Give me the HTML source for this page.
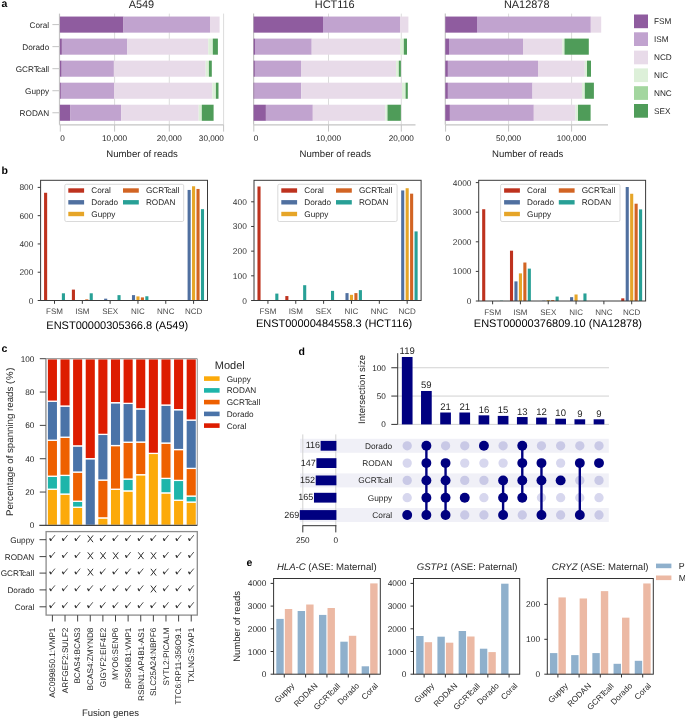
<!DOCTYPE html>
<html><head><meta charset="utf-8"><style>
html,body{margin:0;padding:0;background:#fff;}
svg{display:block;will-change:transform;}
text{font-family:"Liberation Sans", sans-serif;text-rendering:geometricPrecision;font-kerning:normal;}
</style></head><body>
<svg width="685" height="718" viewBox="0 0 685 718">
<rect width="685" height="718" fill="#fff"/>
<text x="1.60" y="6.60" font-size="10.5" text-anchor="start" fill="#000" font-weight="bold">a</text>
<line x1="114.60" y1="13.60" x2="114.60" y2="124.80" stroke="#dcdcdc" stroke-width="1"/>
<line x1="169.30" y1="13.60" x2="169.30" y2="124.80" stroke="#dcdcdc" stroke-width="1"/>
<line x1="223.60" y1="13.60" x2="223.60" y2="124.80" stroke="#dcdcdc" stroke-width="1"/>
<line x1="59.50" y1="13.60" x2="59.50" y2="124.80" stroke="#c4c4c4" stroke-width="1.2"/>
<line x1="59.50" y1="124.80" x2="223.60" y2="124.80" stroke="#c4c4c4" stroke-width="1.2"/>
<rect x="59.90" y="16.55" width="63.60" height="16.10" fill="#8f5c9f"/>
<rect x="123.50" y="16.55" width="86.50" height="16.10" fill="#c1a3cf"/>
<rect x="210.00" y="16.55" width="9.60" height="16.10" fill="#e8dbe9"/>
<rect x="59.90" y="38.59" width="2.00" height="16.10" fill="#8f5c9f"/>
<rect x="61.90" y="38.59" width="65.40" height="16.10" fill="#c1a3cf"/>
<rect x="127.30" y="38.59" width="81.00" height="16.10" fill="#e8dbe9"/>
<rect x="208.30" y="38.59" width="4.50" height="16.10" fill="#ddf0d9"/>
<rect x="212.80" y="38.59" width="5.10" height="16.10" fill="#4f9c59"/>
<rect x="59.90" y="60.63" width="1.80" height="16.10" fill="#8f5c9f"/>
<rect x="61.70" y="60.63" width="52.20" height="16.10" fill="#c1a3cf"/>
<rect x="113.90" y="60.63" width="91.80" height="16.10" fill="#e8dbe9"/>
<rect x="205.70" y="60.63" width="3.20" height="16.10" fill="#ddf0d9"/>
<rect x="208.90" y="60.63" width="2.90" height="16.10" fill="#4f9c59"/>
<rect x="59.90" y="82.67" width="1.00" height="16.10" fill="#8f5c9f"/>
<rect x="60.90" y="82.67" width="53.10" height="16.10" fill="#c1a3cf"/>
<rect x="114.00" y="82.67" width="98.40" height="16.10" fill="#e8dbe9"/>
<rect x="212.40" y="82.67" width="3.50" height="16.10" fill="#ddf0d9"/>
<rect x="215.90" y="82.67" width="2.60" height="16.10" fill="#4f9c59"/>
<rect x="59.90" y="104.71" width="10.20" height="16.10" fill="#8f5c9f"/>
<rect x="70.10" y="104.71" width="51.00" height="16.10" fill="#c1a3cf"/>
<rect x="121.10" y="104.71" width="77.60" height="16.10" fill="#e8dbe9"/>
<rect x="198.70" y="104.71" width="3.10" height="16.10" fill="#ddf0d9"/>
<rect x="201.80" y="104.71" width="11.80" height="16.10" fill="#4f9c59"/>
<line x1="60.30" y1="124.80" x2="60.30" y2="131.60" stroke="#c4c4c4" stroke-width="1"/>
<text x="62.60" y="141.30" font-size="8.2" text-anchor="middle" fill="#262626">0</text>
<line x1="114.60" y1="124.80" x2="114.60" y2="131.60" stroke="#c4c4c4" stroke-width="1"/>
<text x="114.60" y="141.30" font-size="8.2" text-anchor="middle" fill="#262626">10,000</text>
<line x1="169.30" y1="124.80" x2="169.30" y2="131.60" stroke="#c4c4c4" stroke-width="1"/>
<text x="169.30" y="141.30" font-size="8.2" text-anchor="middle" fill="#262626">20,000</text>
<line x1="223.60" y1="124.80" x2="223.60" y2="131.60" stroke="#c4c4c4" stroke-width="1"/>
<text x="223.90" y="141.30" font-size="8.2" text-anchor="end" fill="#262626">30,000</text>
<text x="141.40" y="8.40" font-size="10.95" text-anchor="middle" fill="#262626">A549</text>
<text x="142.10" y="156.60" font-size="9.6" text-anchor="middle" fill="#262626">Number of reads</text>
<line x1="52.40" y1="24.60" x2="59.50" y2="24.60" stroke="#c4c4c4" stroke-width="1"/>
<text x="49.20" y="27.60" font-size="8.2" text-anchor="end" fill="#262626">Coral</text>
<line x1="52.40" y1="46.64" x2="59.50" y2="46.64" stroke="#c4c4c4" stroke-width="1"/>
<text x="49.20" y="49.64" font-size="8.2" text-anchor="end" fill="#262626">Dorado</text>
<line x1="52.40" y1="68.68" x2="59.50" y2="68.68" stroke="#c4c4c4" stroke-width="1"/>
<text x="49.20" y="71.68" font-size="8.2" text-anchor="end" fill="#262626">GCRT<tspan dx="-0.11em">call</tspan></text>
<line x1="52.40" y1="90.72" x2="59.50" y2="90.72" stroke="#c4c4c4" stroke-width="1"/>
<text x="49.20" y="93.72" font-size="8.2" text-anchor="end" fill="#262626">Guppy</text>
<line x1="52.40" y1="112.76" x2="59.50" y2="112.76" stroke="#c4c4c4" stroke-width="1"/>
<text x="49.20" y="115.76" font-size="8.2" text-anchor="end" fill="#262626">RODAN</text>
<line x1="328.50" y1="13.60" x2="328.50" y2="124.80" stroke="#dcdcdc" stroke-width="1"/>
<line x1="401.30" y1="13.60" x2="401.30" y2="124.80" stroke="#dcdcdc" stroke-width="1"/>
<line x1="253.60" y1="13.60" x2="253.60" y2="124.80" stroke="#c4c4c4" stroke-width="1.2"/>
<line x1="253.60" y1="124.80" x2="415.50" y2="124.80" stroke="#c4c4c4" stroke-width="1.2"/>
<rect x="253.60" y="16.55" width="69.40" height="16.10" fill="#8f5c9f"/>
<rect x="323.00" y="16.55" width="77.00" height="16.10" fill="#c1a3cf"/>
<rect x="400.00" y="16.55" width="8.40" height="16.10" fill="#e8dbe9"/>
<rect x="253.60" y="38.59" width="1.40" height="16.10" fill="#8f5c9f"/>
<rect x="255.00" y="38.59" width="56.70" height="16.10" fill="#c1a3cf"/>
<rect x="311.70" y="38.59" width="88.40" height="16.10" fill="#e8dbe9"/>
<rect x="400.10" y="38.59" width="3.70" height="16.10" fill="#ddf0d9"/>
<rect x="403.80" y="38.59" width="3.20" height="16.10" fill="#4f9c59"/>
<rect x="253.60" y="60.63" width="1.30" height="16.10" fill="#8f5c9f"/>
<rect x="254.90" y="60.63" width="46.10" height="16.10" fill="#c1a3cf"/>
<rect x="301.00" y="60.63" width="95.10" height="16.10" fill="#e8dbe9"/>
<rect x="396.10" y="60.63" width="2.70" height="16.10" fill="#ddf0d9"/>
<rect x="398.80" y="60.63" width="2.10" height="16.10" fill="#4f9c59"/>
<rect x="253.60" y="82.67" width="1.00" height="16.10" fill="#8f5c9f"/>
<rect x="254.60" y="82.67" width="46.60" height="16.10" fill="#c1a3cf"/>
<rect x="301.20" y="82.67" width="100.80" height="16.10" fill="#e8dbe9"/>
<rect x="402.00" y="82.67" width="3.60" height="16.10" fill="#ddf0d9"/>
<rect x="405.60" y="82.67" width="2.20" height="16.10" fill="#4f9c59"/>
<rect x="253.60" y="104.71" width="12.30" height="16.10" fill="#8f5c9f"/>
<rect x="265.90" y="104.71" width="46.90" height="16.10" fill="#c1a3cf"/>
<rect x="312.80" y="104.71" width="72.60" height="16.10" fill="#e8dbe9"/>
<rect x="385.40" y="104.71" width="2.10" height="16.10" fill="#ddf0d9"/>
<rect x="387.50" y="104.71" width="13.40" height="16.10" fill="#4f9c59"/>
<line x1="253.80" y1="124.80" x2="253.80" y2="131.60" stroke="#c4c4c4" stroke-width="1"/>
<text x="256.10" y="141.30" font-size="8.2" text-anchor="middle" fill="#262626">0</text>
<line x1="328.50" y1="124.80" x2="328.50" y2="131.60" stroke="#c4c4c4" stroke-width="1"/>
<text x="328.50" y="141.30" font-size="8.2" text-anchor="middle" fill="#262626">10,000</text>
<line x1="401.30" y1="124.80" x2="401.30" y2="131.60" stroke="#c4c4c4" stroke-width="1"/>
<text x="401.30" y="141.30" font-size="8.2" text-anchor="middle" fill="#262626">20,000</text>
<text x="334.75" y="8.40" font-size="10.95" text-anchor="middle" fill="#262626">HCT116</text>
<text x="335.30" y="156.60" font-size="9.6" text-anchor="middle" fill="#262626">Number of reads</text>
<line x1="508.60" y1="13.60" x2="508.60" y2="124.80" stroke="#dcdcdc" stroke-width="1"/>
<line x1="571.60" y1="13.60" x2="571.60" y2="124.80" stroke="#dcdcdc" stroke-width="1"/>
<line x1="445.30" y1="13.60" x2="445.30" y2="124.80" stroke="#c4c4c4" stroke-width="1.2"/>
<line x1="445.30" y1="124.80" x2="608.00" y2="124.80" stroke="#c4c4c4" stroke-width="1.2"/>
<rect x="445.30" y="16.55" width="31.70" height="16.10" fill="#8f5c9f"/>
<rect x="477.00" y="16.55" width="113.80" height="16.10" fill="#c1a3cf"/>
<rect x="590.80" y="16.55" width="10.40" height="16.10" fill="#e8dbe9"/>
<rect x="445.30" y="38.59" width="3.70" height="16.10" fill="#8f5c9f"/>
<rect x="449.00" y="38.59" width="74.00" height="16.10" fill="#c1a3cf"/>
<rect x="523.00" y="38.59" width="39.30" height="16.10" fill="#e8dbe9"/>
<rect x="562.30" y="38.59" width="2.20" height="16.10" fill="#ddf0d9"/>
<rect x="564.50" y="38.59" width="24.30" height="16.10" fill="#4f9c59"/>
<rect x="445.30" y="60.63" width="2.60" height="16.10" fill="#8f5c9f"/>
<rect x="447.90" y="60.63" width="90.10" height="16.10" fill="#c1a3cf"/>
<rect x="538.00" y="60.63" width="46.80" height="16.10" fill="#e8dbe9"/>
<rect x="584.80" y="60.63" width="2.20" height="16.10" fill="#ddf0d9"/>
<rect x="587.00" y="60.63" width="4.00" height="16.10" fill="#4f9c59"/>
<rect x="445.30" y="82.67" width="2.60" height="16.10" fill="#8f5c9f"/>
<rect x="447.90" y="82.67" width="84.60" height="16.10" fill="#c1a3cf"/>
<rect x="532.50" y="82.67" width="49.50" height="16.10" fill="#e8dbe9"/>
<rect x="582.00" y="82.67" width="2.80" height="16.10" fill="#ddf0d9"/>
<rect x="584.80" y="82.67" width="9.10" height="16.10" fill="#4f9c59"/>
<rect x="445.30" y="104.71" width="4.60" height="16.10" fill="#8f5c9f"/>
<rect x="449.90" y="104.71" width="83.90" height="16.10" fill="#c1a3cf"/>
<rect x="533.80" y="104.71" width="41.80" height="16.10" fill="#e8dbe9"/>
<rect x="575.60" y="104.71" width="2.40" height="16.10" fill="#ddf0d9"/>
<rect x="578.00" y="104.71" width="12.60" height="16.10" fill="#4f9c59"/>
<line x1="445.60" y1="124.80" x2="445.60" y2="131.60" stroke="#c4c4c4" stroke-width="1"/>
<text x="447.90" y="141.30" font-size="8.2" text-anchor="middle" fill="#262626">0</text>
<line x1="508.60" y1="124.80" x2="508.60" y2="131.60" stroke="#c4c4c4" stroke-width="1"/>
<text x="508.60" y="141.30" font-size="8.2" text-anchor="middle" fill="#262626">50,000</text>
<line x1="571.60" y1="124.80" x2="571.60" y2="131.60" stroke="#c4c4c4" stroke-width="1"/>
<text x="571.60" y="141.30" font-size="8.2" text-anchor="middle" fill="#262626">100,000</text>
<text x="526.70" y="8.40" font-size="10.95" text-anchor="middle" fill="#262626">NA12878</text>
<text x="527.70" y="156.60" font-size="9.6" text-anchor="middle" fill="#262626">Number of reads</text>
<rect x="634.00" y="14.50" width="14.00" height="13.70" fill="#8f5c9f"/>
<text x="654.00" y="24.35" font-size="8.2" text-anchor="start" fill="#262626">FSM</text>
<rect x="634.00" y="32.30" width="14.00" height="13.70" fill="#c1a3cf"/>
<text x="654.00" y="42.15" font-size="8.2" text-anchor="start" fill="#262626">ISM</text>
<rect x="634.00" y="50.60" width="14.00" height="13.70" fill="#e8dbe9"/>
<text x="654.00" y="60.45" font-size="8.2" text-anchor="start" fill="#262626">NCD</text>
<rect x="634.00" y="68.40" width="14.00" height="13.70" fill="#ddf0d9"/>
<text x="654.00" y="78.25" font-size="8.2" text-anchor="start" fill="#262626">NIC</text>
<rect x="634.00" y="86.20" width="14.00" height="13.70" fill="#a3d69f"/>
<text x="654.00" y="96.05" font-size="8.2" text-anchor="start" fill="#262626">NNC</text>
<rect x="634.00" y="104.00" width="14.00" height="13.70" fill="#4f9c59"/>
<text x="654.00" y="113.85" font-size="8.2" text-anchor="start" fill="#262626">SEX</text>
<text x="1.40" y="173.50" font-size="10.5" text-anchor="start" fill="#000" font-weight="bold">b</text>
<rect x="44.06" y="192.77" width="3.10" height="107.73" fill="#be321e"/>
<rect x="61.86" y="293.29" width="3.10" height="7.21" fill="#28a096"/>
<line x1="54.51" y1="300.50" x2="54.51" y2="303.80" stroke="#3a3a3a" stroke-width="1"/>
<text x="54.51" y="313.80" font-size="8.0" text-anchor="middle" fill="#4a4a4a">FSM</text>
<rect x="71.87" y="289.61" width="3.10" height="10.89" fill="#be321e"/>
<rect x="85.23" y="299.37" width="3.10" height="1.13" fill="#d26423"/>
<rect x="89.68" y="293.29" width="3.10" height="7.21" fill="#28a096"/>
<line x1="82.33" y1="300.50" x2="82.33" y2="303.80" stroke="#3a3a3a" stroke-width="1"/>
<text x="82.33" y="313.80" font-size="8.0" text-anchor="middle" fill="#4a4a4a">ISM</text>
<rect x="104.14" y="298.66" width="3.10" height="1.84" fill="#5070a0"/>
<rect x="117.49" y="295.13" width="3.10" height="5.37" fill="#28a096"/>
<line x1="110.14" y1="300.50" x2="110.14" y2="303.80" stroke="#3a3a3a" stroke-width="1"/>
<text x="110.14" y="313.80" font-size="8.0" text-anchor="middle" fill="#4a4a4a">SEX</text>
<rect x="131.96" y="295.13" width="3.10" height="5.37" fill="#5070a0"/>
<rect x="136.41" y="296.40" width="3.10" height="4.10" fill="#e6a528"/>
<rect x="140.86" y="297.39" width="3.10" height="3.11" fill="#d26423"/>
<rect x="145.31" y="296.26" width="3.10" height="4.24" fill="#28a096"/>
<line x1="137.96" y1="300.50" x2="137.96" y2="303.80" stroke="#3a3a3a" stroke-width="1"/>
<text x="137.96" y="313.80" font-size="8.0" text-anchor="middle" fill="#4a4a4a">NIC</text>
<line x1="165.78" y1="300.50" x2="165.78" y2="303.80" stroke="#3a3a3a" stroke-width="1"/>
<text x="165.78" y="313.80" font-size="8.0" text-anchor="middle" fill="#4a4a4a">NNC</text>
<rect x="187.59" y="189.94" width="3.10" height="110.56" fill="#5070a0"/>
<rect x="192.04" y="186.26" width="3.10" height="114.24" fill="#e6a528"/>
<rect x="196.49" y="188.95" width="3.10" height="111.55" fill="#d26423"/>
<rect x="200.94" y="209.17" width="3.10" height="91.33" fill="#28a096"/>
<line x1="193.59" y1="300.50" x2="193.59" y2="303.80" stroke="#3a3a3a" stroke-width="1"/>
<text x="193.59" y="313.80" font-size="8.0" text-anchor="middle" fill="#4a4a4a">NCD</text>
<rect x="40.60" y="180.30" width="166.90" height="120.20" fill="none" stroke="#3a3a3a" stroke-width="1"/>
<line x1="37.70" y1="300.50" x2="40.60" y2="300.50" stroke="#3a3a3a" stroke-width="1"/>
<text x="33.40" y="303.50" font-size="8.4" text-anchor="end" fill="#333333">0</text>
<line x1="37.70" y1="272.22" x2="40.60" y2="272.22" stroke="#3a3a3a" stroke-width="1"/>
<text x="33.40" y="275.22" font-size="8.4" text-anchor="end" fill="#333333">200</text>
<line x1="37.70" y1="243.95" x2="40.60" y2="243.95" stroke="#3a3a3a" stroke-width="1"/>
<text x="33.40" y="246.95" font-size="8.4" text-anchor="end" fill="#333333">400</text>
<line x1="37.70" y1="215.67" x2="40.60" y2="215.67" stroke="#3a3a3a" stroke-width="1"/>
<text x="33.40" y="218.67" font-size="8.4" text-anchor="end" fill="#333333">600</text>
<line x1="37.70" y1="187.40" x2="40.60" y2="187.40" stroke="#3a3a3a" stroke-width="1"/>
<text x="33.40" y="190.40" font-size="8.4" text-anchor="end" fill="#333333">800</text>
<rect x="64.80" y="184.3" width="118.90" height="37.2" rx="1.5" fill="#fff" fill-opacity="0.85" stroke="#d0d0d0" stroke-width="0.8"/>
<rect x="68.30" y="188.30" width="15.80" height="4.40" fill="#be321e"/>
<text x="91.30" y="193.40" font-size="8.2" text-anchor="start" fill="#262626">Coral</text>
<rect x="68.30" y="200.10" width="15.80" height="4.40" fill="#5070a0"/>
<text x="91.30" y="205.20" font-size="8.2" text-anchor="start" fill="#262626">Dorado</text>
<rect x="68.30" y="211.80" width="15.80" height="4.40" fill="#e6a528"/>
<text x="91.30" y="216.90" font-size="8.2" text-anchor="start" fill="#262626">Guppy</text>
<rect x="123.00" y="188.30" width="15.80" height="4.40" fill="#d26423"/>
<text x="145.90" y="193.40" font-size="8.2" text-anchor="start" fill="#262626">GCRT<tspan dx="-0.11em">call</tspan></text>
<rect x="123.00" y="200.10" width="15.80" height="4.40" fill="#28a096"/>
<text x="145.90" y="205.20" font-size="8.2" text-anchor="start" fill="#262626">RODAN</text>
<text x="46.30" y="329.30" font-size="11.0" text-anchor="start" fill="#000">ENST00000305366.8 (A549)</text>
<rect x="257.46" y="186.50" width="3.10" height="114.00" fill="#be321e"/>
<rect x="275.29" y="293.59" width="3.10" height="6.91" fill="#28a096"/>
<line x1="267.93" y1="300.50" x2="267.93" y2="303.80" stroke="#3a3a3a" stroke-width="1"/>
<text x="267.93" y="313.80" font-size="8.0" text-anchor="middle" fill="#4a4a4a">FSM</text>
<rect x="285.31" y="296.06" width="3.10" height="4.44" fill="#be321e"/>
<rect x="303.14" y="285.20" width="3.10" height="15.30" fill="#28a096"/>
<line x1="295.77" y1="300.50" x2="295.77" y2="303.80" stroke="#3a3a3a" stroke-width="1"/>
<text x="295.77" y="313.80" font-size="8.0" text-anchor="middle" fill="#4a4a4a">ISM</text>
<rect x="330.99" y="290.88" width="3.10" height="9.62" fill="#28a096"/>
<line x1="323.62" y1="300.50" x2="323.62" y2="303.80" stroke="#3a3a3a" stroke-width="1"/>
<text x="323.62" y="313.80" font-size="8.0" text-anchor="middle" fill="#4a4a4a">SEX</text>
<rect x="345.47" y="293.10" width="3.10" height="7.40" fill="#5070a0"/>
<rect x="349.93" y="294.82" width="3.10" height="5.68" fill="#e6a528"/>
<rect x="354.38" y="293.10" width="3.10" height="7.40" fill="#d26423"/>
<rect x="358.84" y="290.14" width="3.10" height="10.36" fill="#28a096"/>
<line x1="351.48" y1="300.50" x2="351.48" y2="303.80" stroke="#3a3a3a" stroke-width="1"/>
<text x="351.48" y="313.80" font-size="8.0" text-anchor="middle" fill="#4a4a4a">NIC</text>
<line x1="379.33" y1="300.50" x2="379.33" y2="303.80" stroke="#3a3a3a" stroke-width="1"/>
<text x="379.33" y="313.80" font-size="8.0" text-anchor="middle" fill="#4a4a4a">NNC</text>
<rect x="401.17" y="190.45" width="3.10" height="110.05" fill="#5070a0"/>
<rect x="405.63" y="188.23" width="3.10" height="112.27" fill="#e6a528"/>
<rect x="410.08" y="193.66" width="3.10" height="106.84" fill="#d26423"/>
<rect x="414.54" y="231.41" width="3.10" height="69.09" fill="#28a096"/>
<line x1="407.18" y1="300.50" x2="407.18" y2="303.80" stroke="#3a3a3a" stroke-width="1"/>
<text x="407.18" y="313.80" font-size="8.0" text-anchor="middle" fill="#4a4a4a">NCD</text>
<rect x="254.00" y="180.30" width="167.10" height="120.20" fill="none" stroke="#3a3a3a" stroke-width="1"/>
<line x1="251.10" y1="300.50" x2="254.00" y2="300.50" stroke="#3a3a3a" stroke-width="1"/>
<text x="246.80" y="303.50" font-size="8.4" text-anchor="end" fill="#333333">0</text>
<line x1="251.10" y1="275.82" x2="254.00" y2="275.82" stroke="#3a3a3a" stroke-width="1"/>
<text x="246.80" y="278.82" font-size="8.4" text-anchor="end" fill="#333333">100</text>
<line x1="251.10" y1="251.15" x2="254.00" y2="251.15" stroke="#3a3a3a" stroke-width="1"/>
<text x="246.80" y="254.15" font-size="8.4" text-anchor="end" fill="#333333">200</text>
<line x1="251.10" y1="226.47" x2="254.00" y2="226.47" stroke="#3a3a3a" stroke-width="1"/>
<text x="246.80" y="229.47" font-size="8.4" text-anchor="end" fill="#333333">300</text>
<line x1="251.10" y1="201.80" x2="254.00" y2="201.80" stroke="#3a3a3a" stroke-width="1"/>
<text x="246.80" y="204.80" font-size="8.4" text-anchor="end" fill="#333333">400</text>
<rect x="277.80" y="184.3" width="119.30" height="37.2" rx="1.5" fill="#fff" fill-opacity="0.85" stroke="#d0d0d0" stroke-width="0.8"/>
<rect x="281.30" y="188.30" width="15.80" height="4.40" fill="#be321e"/>
<text x="304.30" y="193.40" font-size="8.2" text-anchor="start" fill="#262626">Coral</text>
<rect x="281.30" y="200.10" width="15.80" height="4.40" fill="#5070a0"/>
<text x="304.30" y="205.20" font-size="8.2" text-anchor="start" fill="#262626">Dorado</text>
<rect x="281.30" y="211.80" width="15.80" height="4.40" fill="#e6a528"/>
<text x="304.30" y="216.90" font-size="8.2" text-anchor="start" fill="#262626">Guppy</text>
<rect x="336.00" y="188.30" width="15.80" height="4.40" fill="#d26423"/>
<text x="358.90" y="193.40" font-size="8.2" text-anchor="start" fill="#262626">GCRT<tspan dx="-0.11em">call</tspan></text>
<rect x="336.00" y="200.10" width="15.80" height="4.40" fill="#28a096"/>
<text x="358.90" y="205.20" font-size="8.2" text-anchor="start" fill="#262626">RODAN</text>
<text x="255.90" y="326.80" font-size="11.0" text-anchor="start" fill="#000">ENST00000484558.3 (HCT116)</text>
<rect x="482.16" y="209.24" width="3.10" height="91.76" fill="#be321e"/>
<rect x="499.96" y="300.70" width="3.10" height="0.30" fill="#28a096"/>
<line x1="492.61" y1="301.00" x2="492.61" y2="304.30" stroke="#3a3a3a" stroke-width="1"/>
<text x="492.61" y="314.50" font-size="8.0" text-anchor="middle" fill="#4a4a4a">FSM</text>
<rect x="509.97" y="250.68" width="3.10" height="50.32" fill="#be321e"/>
<rect x="514.42" y="281.38" width="3.10" height="19.62" fill="#5070a0"/>
<rect x="518.88" y="273.38" width="3.10" height="27.62" fill="#e6a528"/>
<rect x="523.33" y="262.52" width="3.10" height="38.48" fill="#d26423"/>
<rect x="527.78" y="268.62" width="3.10" height="32.38" fill="#28a096"/>
<line x1="520.42" y1="301.00" x2="520.42" y2="304.30" stroke="#3a3a3a" stroke-width="1"/>
<text x="520.42" y="314.50" font-size="8.0" text-anchor="middle" fill="#4a4a4a">ISM</text>
<rect x="542.24" y="300.70" width="3.10" height="0.30" fill="#5070a0"/>
<rect x="546.69" y="300.11" width="3.10" height="0.89" fill="#e6a528"/>
<rect x="551.14" y="300.11" width="3.10" height="0.89" fill="#d26423"/>
<rect x="555.59" y="296.56" width="3.10" height="4.44" fill="#28a096"/>
<line x1="548.24" y1="301.00" x2="548.24" y2="304.30" stroke="#3a3a3a" stroke-width="1"/>
<text x="548.24" y="314.50" font-size="8.0" text-anchor="middle" fill="#4a4a4a">SEX</text>
<rect x="570.06" y="297.15" width="3.10" height="3.85" fill="#5070a0"/>
<rect x="574.51" y="294.49" width="3.10" height="6.51" fill="#e6a528"/>
<rect x="583.41" y="293.45" width="3.10" height="7.55" fill="#28a096"/>
<line x1="576.06" y1="301.00" x2="576.06" y2="304.30" stroke="#3a3a3a" stroke-width="1"/>
<text x="576.06" y="314.50" font-size="8.0" text-anchor="middle" fill="#4a4a4a">NIC</text>
<line x1="603.88" y1="301.00" x2="603.88" y2="304.30" stroke="#3a3a3a" stroke-width="1"/>
<text x="603.88" y="314.50" font-size="8.0" text-anchor="middle" fill="#4a4a4a">NNC</text>
<rect x="621.24" y="298.34" width="3.10" height="2.66" fill="#be321e"/>
<rect x="625.69" y="187.01" width="3.10" height="113.99" fill="#5070a0"/>
<rect x="630.14" y="193.76" width="3.10" height="107.24" fill="#e6a528"/>
<rect x="634.59" y="203.70" width="3.10" height="97.30" fill="#d26423"/>
<rect x="639.04" y="209.39" width="3.10" height="91.61" fill="#28a096"/>
<line x1="631.69" y1="301.00" x2="631.69" y2="304.30" stroke="#3a3a3a" stroke-width="1"/>
<text x="631.69" y="314.50" font-size="8.0" text-anchor="middle" fill="#4a4a4a">NCD</text>
<rect x="478.70" y="180.30" width="166.90" height="120.70" fill="none" stroke="#3a3a3a" stroke-width="1"/>
<line x1="475.80" y1="301.00" x2="478.70" y2="301.00" stroke="#3a3a3a" stroke-width="1"/>
<text x="471.50" y="304.00" font-size="8.4" text-anchor="end" fill="#333333">0</text>
<line x1="475.80" y1="271.40" x2="478.70" y2="271.40" stroke="#3a3a3a" stroke-width="1"/>
<text x="471.50" y="274.40" font-size="8.4" text-anchor="end" fill="#333333">1000</text>
<line x1="475.80" y1="241.80" x2="478.70" y2="241.80" stroke="#3a3a3a" stroke-width="1"/>
<text x="471.50" y="244.80" font-size="8.4" text-anchor="end" fill="#333333">2000</text>
<line x1="475.80" y1="212.20" x2="478.70" y2="212.20" stroke="#3a3a3a" stroke-width="1"/>
<text x="471.50" y="215.20" font-size="8.4" text-anchor="end" fill="#333333">3000</text>
<line x1="475.80" y1="182.60" x2="478.70" y2="182.60" stroke="#3a3a3a" stroke-width="1"/>
<text x="471.50" y="185.60" font-size="8.4" text-anchor="end" fill="#333333">4000</text>
<rect x="500.60" y="184.3" width="119.40" height="37.2" rx="1.5" fill="#fff" fill-opacity="0.85" stroke="#d0d0d0" stroke-width="0.8"/>
<rect x="504.10" y="188.30" width="15.80" height="4.40" fill="#be321e"/>
<text x="527.10" y="193.40" font-size="8.2" text-anchor="start" fill="#262626">Coral</text>
<rect x="504.10" y="200.10" width="15.80" height="4.40" fill="#5070a0"/>
<text x="527.10" y="205.20" font-size="8.2" text-anchor="start" fill="#262626">Dorado</text>
<rect x="504.10" y="211.80" width="15.80" height="4.40" fill="#e6a528"/>
<text x="527.10" y="216.90" font-size="8.2" text-anchor="start" fill="#262626">Guppy</text>
<rect x="558.80" y="188.30" width="15.80" height="4.40" fill="#d26423"/>
<text x="581.70" y="193.40" font-size="8.2" text-anchor="start" fill="#262626">GCRT<tspan dx="-0.11em">call</tspan></text>
<rect x="558.80" y="200.10" width="15.80" height="4.40" fill="#28a096"/>
<text x="581.70" y="205.20" font-size="8.2" text-anchor="start" fill="#262626">RODAN</text>
<text x="473.80" y="326.90" font-size="11.0" text-anchor="start" fill="#000">ENST00000376809.10 (NA12878)</text>
<text x="1.60" y="352.30" font-size="10.5" text-anchor="start" fill="#000" font-weight="bold">c</text>
<rect x="47.20" y="489.23" width="10.40" height="36.17" fill="#fcaa0a" stroke="#fff" stroke-width="1.3"/>
<rect x="47.20" y="476.22" width="10.40" height="13.00" fill="#1eb5aa" stroke="#fff" stroke-width="1.3"/>
<rect x="47.20" y="440.22" width="10.40" height="36.01" fill="#ee6000" stroke="#fff" stroke-width="1.3"/>
<rect x="47.20" y="401.21" width="10.40" height="39.01" fill="#4a73a8" stroke="#fff" stroke-width="1.3"/>
<rect x="47.20" y="358.70" width="10.40" height="42.51" fill="#dd1c00" stroke="#fff" stroke-width="1.3"/>
<rect x="59.82" y="494.06" width="10.40" height="31.34" fill="#fcaa0a" stroke="#fff" stroke-width="1.3"/>
<rect x="59.82" y="475.39" width="10.40" height="18.67" fill="#1eb5aa" stroke="#fff" stroke-width="1.3"/>
<rect x="59.82" y="437.22" width="10.40" height="38.17" fill="#ee6000" stroke="#fff" stroke-width="1.3"/>
<rect x="59.82" y="406.04" width="10.40" height="31.17" fill="#4a73a8" stroke="#fff" stroke-width="1.3"/>
<rect x="59.82" y="358.70" width="10.40" height="47.34" fill="#dd1c00" stroke="#fff" stroke-width="1.3"/>
<rect x="72.44" y="507.23" width="10.40" height="18.17" fill="#fcaa0a" stroke="#fff" stroke-width="1.3"/>
<rect x="72.44" y="501.23" width="10.40" height="6.00" fill="#1eb5aa" stroke="#fff" stroke-width="1.3"/>
<rect x="72.44" y="472.06" width="10.40" height="29.17" fill="#ee6000" stroke="#fff" stroke-width="1.3"/>
<rect x="72.44" y="445.88" width="10.40" height="26.17" fill="#4a73a8" stroke="#fff" stroke-width="1.3"/>
<rect x="72.44" y="358.70" width="10.40" height="87.18" fill="#dd1c00" stroke="#fff" stroke-width="1.3"/>
<rect x="85.06" y="458.72" width="10.40" height="66.68" fill="#4a73a8" stroke="#fff" stroke-width="1.3"/>
<rect x="85.06" y="358.70" width="10.40" height="100.02" fill="#dd1c00" stroke="#fff" stroke-width="1.3"/>
<rect x="97.68" y="517.90" width="10.40" height="7.50" fill="#fcaa0a" stroke="#fff" stroke-width="1.3"/>
<rect x="97.68" y="480.06" width="10.40" height="37.84" fill="#ee6000" stroke="#fff" stroke-width="1.3"/>
<rect x="97.68" y="434.38" width="10.40" height="45.68" fill="#4a73a8" stroke="#fff" stroke-width="1.3"/>
<rect x="97.68" y="358.70" width="10.40" height="75.68" fill="#dd1c00" stroke="#fff" stroke-width="1.3"/>
<rect x="110.30" y="489.23" width="10.40" height="36.17" fill="#fcaa0a" stroke="#fff" stroke-width="1.3"/>
<rect x="110.30" y="445.55" width="10.40" height="43.68" fill="#ee6000" stroke="#fff" stroke-width="1.3"/>
<rect x="110.30" y="402.71" width="10.40" height="42.84" fill="#4a73a8" stroke="#fff" stroke-width="1.3"/>
<rect x="110.30" y="358.70" width="10.40" height="44.01" fill="#dd1c00" stroke="#fff" stroke-width="1.3"/>
<rect x="122.92" y="490.89" width="10.40" height="34.51" fill="#fcaa0a" stroke="#fff" stroke-width="1.3"/>
<rect x="122.92" y="479.06" width="10.40" height="11.84" fill="#1eb5aa" stroke="#fff" stroke-width="1.3"/>
<rect x="122.92" y="442.22" width="10.40" height="36.84" fill="#ee6000" stroke="#fff" stroke-width="1.3"/>
<rect x="122.92" y="403.38" width="10.40" height="38.84" fill="#4a73a8" stroke="#fff" stroke-width="1.3"/>
<rect x="122.92" y="358.70" width="10.40" height="44.68" fill="#dd1c00" stroke="#fff" stroke-width="1.3"/>
<rect x="135.54" y="474.72" width="10.40" height="50.68" fill="#fcaa0a" stroke="#fff" stroke-width="1.3"/>
<rect x="135.54" y="442.05" width="10.40" height="32.67" fill="#ee6000" stroke="#fff" stroke-width="1.3"/>
<rect x="135.54" y="408.88" width="10.40" height="33.17" fill="#4a73a8" stroke="#fff" stroke-width="1.3"/>
<rect x="135.54" y="358.70" width="10.40" height="50.18" fill="#dd1c00" stroke="#fff" stroke-width="1.3"/>
<rect x="148.16" y="453.39" width="10.40" height="72.01" fill="#fcaa0a" stroke="#fff" stroke-width="1.3"/>
<rect x="148.16" y="358.70" width="10.40" height="94.69" fill="#dd1c00" stroke="#fff" stroke-width="1.3"/>
<rect x="160.78" y="492.89" width="10.40" height="32.51" fill="#fcaa0a" stroke="#fff" stroke-width="1.3"/>
<rect x="160.78" y="478.39" width="10.40" height="14.50" fill="#1eb5aa" stroke="#fff" stroke-width="1.3"/>
<rect x="160.78" y="443.05" width="10.40" height="35.34" fill="#ee6000" stroke="#fff" stroke-width="1.3"/>
<rect x="160.78" y="405.04" width="10.40" height="38.01" fill="#4a73a8" stroke="#fff" stroke-width="1.3"/>
<rect x="160.78" y="358.70" width="10.40" height="46.34" fill="#dd1c00" stroke="#fff" stroke-width="1.3"/>
<rect x="173.40" y="500.23" width="10.40" height="25.17" fill="#fcaa0a" stroke="#fff" stroke-width="1.3"/>
<rect x="173.40" y="480.39" width="10.40" height="19.84" fill="#1eb5aa" stroke="#fff" stroke-width="1.3"/>
<rect x="173.40" y="449.55" width="10.40" height="30.84" fill="#ee6000" stroke="#fff" stroke-width="1.3"/>
<rect x="173.40" y="409.71" width="10.40" height="39.84" fill="#4a73a8" stroke="#fff" stroke-width="1.3"/>
<rect x="173.40" y="358.70" width="10.40" height="51.01" fill="#dd1c00" stroke="#fff" stroke-width="1.3"/>
<rect x="186.02" y="502.06" width="10.40" height="23.34" fill="#fcaa0a" stroke="#fff" stroke-width="1.3"/>
<rect x="186.02" y="496.06" width="10.40" height="6.00" fill="#1eb5aa" stroke="#fff" stroke-width="1.3"/>
<rect x="186.02" y="468.39" width="10.40" height="27.67" fill="#ee6000" stroke="#fff" stroke-width="1.3"/>
<rect x="186.02" y="420.05" width="10.40" height="48.34" fill="#4a73a8" stroke="#fff" stroke-width="1.3"/>
<rect x="186.02" y="358.70" width="10.40" height="61.35" fill="#dd1c00" stroke="#fff" stroke-width="1.3"/>
<line x1="45.90" y1="358.70" x2="197.30" y2="358.70" stroke="#a0a0a0" stroke-width="1.2"/>
<line x1="197.30" y1="358.70" x2="197.30" y2="525.40" stroke="#a0a0a0" stroke-width="1.2"/>
<line x1="45.90" y1="358.70" x2="45.90" y2="525.40" stroke="#a0a0a0" stroke-width="1.6"/>
<line x1="39.30" y1="525.40" x2="197.30" y2="525.40" stroke="#444444" stroke-width="1.3"/>
<text x="34.30" y="528.40" font-size="8.2" text-anchor="end" fill="#262626">0</text>
<line x1="39.80" y1="492.06" x2="45.90" y2="492.06" stroke="#444444" stroke-width="1"/>
<text x="34.30" y="495.06" font-size="8.2" text-anchor="end" fill="#262626">20</text>
<line x1="39.80" y1="458.72" x2="45.90" y2="458.72" stroke="#444444" stroke-width="1"/>
<text x="34.30" y="461.72" font-size="8.2" text-anchor="end" fill="#262626">40</text>
<line x1="39.80" y1="425.38" x2="45.90" y2="425.38" stroke="#444444" stroke-width="1"/>
<text x="34.30" y="428.38" font-size="8.2" text-anchor="end" fill="#262626">60</text>
<line x1="39.80" y1="392.04" x2="45.90" y2="392.04" stroke="#444444" stroke-width="1"/>
<text x="34.30" y="395.04" font-size="8.2" text-anchor="end" fill="#262626">80</text>
<line x1="39.80" y1="358.70" x2="45.90" y2="358.70" stroke="#444444" stroke-width="1"/>
<text x="34.30" y="361.70" font-size="8.2" text-anchor="end" fill="#262626">100</text>
<text x="12.6" y="441.7" font-size="9.7" text-anchor="middle" fill="#262626" transform="rotate(-90 12.6 441.7)">Percentage of spanning reads (<tspan dx="0.08em">%</tspan><tspan dx="0.08em">)</tspan></text>
<text x="214.80" y="368.70" font-size="11.0" text-anchor="start" fill="#262626">Model</text>
<rect x="204.00" y="376.30" width="15.60" height="4.60" fill="#fcaa0a"/>
<text x="226.70" y="381.60" font-size="8.2" text-anchor="start" fill="#262626">Guppy</text>
<rect x="204.00" y="388.10" width="15.60" height="4.60" fill="#1eb5aa"/>
<text x="226.70" y="393.40" font-size="8.2" text-anchor="start" fill="#262626">RODAN</text>
<rect x="204.00" y="399.80" width="15.60" height="4.60" fill="#ee6000"/>
<text x="226.70" y="405.10" font-size="8.2" text-anchor="start" fill="#262626">GCRT<tspan dx="-0.11em">call</tspan></text>
<rect x="204.00" y="411.60" width="15.60" height="4.60" fill="#4a73a8"/>
<text x="226.70" y="416.90" font-size="8.2" text-anchor="start" fill="#262626">Dorado</text>
<rect x="204.00" y="423.30" width="15.60" height="4.60" fill="#dd1c00"/>
<text x="226.70" y="428.60" font-size="8.2" text-anchor="start" fill="#262626">Coral</text>
<rect x="46.1" y="531.6" width="151.20" height="83.50" fill="none" stroke="#8c8c8c" stroke-width="1.3"/>
<line x1="39.50" y1="539.70" x2="46.10" y2="539.70" stroke="#444444" stroke-width="1"/>
<text x="34.30" y="542.70" font-size="8.2" text-anchor="end" fill="#262626">Guppy</text>
<path d="M50.00,538.80 L50.80,540.30" fill="none" stroke="#333" stroke-width="1.5" stroke-linecap="round"/>
<path d="M50.80,540.30 L54.70,535.50" fill="none" stroke="#333" stroke-width="0.85" stroke-linecap="round"/>
<path d="M62.62,538.80 L63.42,540.30" fill="none" stroke="#333" stroke-width="1.5" stroke-linecap="round"/>
<path d="M63.42,540.30 L67.32,535.50" fill="none" stroke="#333" stroke-width="0.85" stroke-linecap="round"/>
<path d="M75.24,538.80 L76.04,540.30" fill="none" stroke="#333" stroke-width="1.5" stroke-linecap="round"/>
<path d="M76.04,540.30 L79.94,535.50" fill="none" stroke="#333" stroke-width="0.85" stroke-linecap="round"/>
<path d="M87.76,535.40 L93.06,542.20 M93.06,535.40 L87.76,542.20" fill="none" stroke="#333" stroke-width="1.0"/>
<path d="M100.48,538.80 L101.28,540.30" fill="none" stroke="#333" stroke-width="1.5" stroke-linecap="round"/>
<path d="M101.28,540.30 L105.18,535.50" fill="none" stroke="#333" stroke-width="0.85" stroke-linecap="round"/>
<path d="M113.10,538.80 L113.90,540.30" fill="none" stroke="#333" stroke-width="1.5" stroke-linecap="round"/>
<path d="M113.90,540.30 L117.80,535.50" fill="none" stroke="#333" stroke-width="0.85" stroke-linecap="round"/>
<path d="M125.72,538.80 L126.52,540.30" fill="none" stroke="#333" stroke-width="1.5" stroke-linecap="round"/>
<path d="M126.52,540.30 L130.42,535.50" fill="none" stroke="#333" stroke-width="0.85" stroke-linecap="round"/>
<path d="M138.34,538.80 L139.14,540.30" fill="none" stroke="#333" stroke-width="1.5" stroke-linecap="round"/>
<path d="M139.14,540.30 L143.04,535.50" fill="none" stroke="#333" stroke-width="0.85" stroke-linecap="round"/>
<path d="M150.96,538.80 L151.76,540.30" fill="none" stroke="#333" stroke-width="1.5" stroke-linecap="round"/>
<path d="M151.76,540.30 L155.66,535.50" fill="none" stroke="#333" stroke-width="0.85" stroke-linecap="round"/>
<path d="M163.58,538.80 L164.38,540.30" fill="none" stroke="#333" stroke-width="1.5" stroke-linecap="round"/>
<path d="M164.38,540.30 L168.28,535.50" fill="none" stroke="#333" stroke-width="0.85" stroke-linecap="round"/>
<path d="M176.20,538.80 L177.00,540.30" fill="none" stroke="#333" stroke-width="1.5" stroke-linecap="round"/>
<path d="M177.00,540.30 L180.90,535.50" fill="none" stroke="#333" stroke-width="0.85" stroke-linecap="round"/>
<path d="M188.82,538.80 L189.62,540.30" fill="none" stroke="#333" stroke-width="1.5" stroke-linecap="round"/>
<path d="M189.62,540.30 L193.52,535.50" fill="none" stroke="#333" stroke-width="0.85" stroke-linecap="round"/>
<line x1="39.50" y1="556.60" x2="46.10" y2="556.60" stroke="#444444" stroke-width="1"/>
<text x="34.30" y="559.60" font-size="8.2" text-anchor="end" fill="#262626">RODAN</text>
<path d="M50.00,555.70 L50.80,557.20" fill="none" stroke="#333" stroke-width="1.5" stroke-linecap="round"/>
<path d="M50.80,557.20 L54.70,552.40" fill="none" stroke="#333" stroke-width="0.85" stroke-linecap="round"/>
<path d="M62.62,555.70 L63.42,557.20" fill="none" stroke="#333" stroke-width="1.5" stroke-linecap="round"/>
<path d="M63.42,557.20 L67.32,552.40" fill="none" stroke="#333" stroke-width="0.85" stroke-linecap="round"/>
<path d="M75.24,555.70 L76.04,557.20" fill="none" stroke="#333" stroke-width="1.5" stroke-linecap="round"/>
<path d="M76.04,557.20 L79.94,552.40" fill="none" stroke="#333" stroke-width="0.85" stroke-linecap="round"/>
<path d="M87.76,552.30 L93.06,559.10 M93.06,552.30 L87.76,559.10" fill="none" stroke="#333" stroke-width="1.0"/>
<path d="M100.38,552.30 L105.68,559.10 M105.68,552.30 L100.38,559.10" fill="none" stroke="#333" stroke-width="1.0"/>
<path d="M113.00,552.30 L118.30,559.10 M118.30,552.30 L113.00,559.10" fill="none" stroke="#333" stroke-width="1.0"/>
<path d="M125.72,555.70 L126.52,557.20" fill="none" stroke="#333" stroke-width="1.5" stroke-linecap="round"/>
<path d="M126.52,557.20 L130.42,552.40" fill="none" stroke="#333" stroke-width="0.85" stroke-linecap="round"/>
<path d="M138.24,552.30 L143.54,559.10 M143.54,552.30 L138.24,559.10" fill="none" stroke="#333" stroke-width="1.0"/>
<path d="M150.86,552.30 L156.16,559.10 M156.16,552.30 L150.86,559.10" fill="none" stroke="#333" stroke-width="1.0"/>
<path d="M163.58,555.70 L164.38,557.20" fill="none" stroke="#333" stroke-width="1.5" stroke-linecap="round"/>
<path d="M164.38,557.20 L168.28,552.40" fill="none" stroke="#333" stroke-width="0.85" stroke-linecap="round"/>
<path d="M176.20,555.70 L177.00,557.20" fill="none" stroke="#333" stroke-width="1.5" stroke-linecap="round"/>
<path d="M177.00,557.20 L180.90,552.40" fill="none" stroke="#333" stroke-width="0.85" stroke-linecap="round"/>
<path d="M188.82,555.70 L189.62,557.20" fill="none" stroke="#333" stroke-width="1.5" stroke-linecap="round"/>
<path d="M189.62,557.20 L193.52,552.40" fill="none" stroke="#333" stroke-width="0.85" stroke-linecap="round"/>
<line x1="39.50" y1="573.10" x2="46.10" y2="573.10" stroke="#444444" stroke-width="1"/>
<text x="34.30" y="576.10" font-size="8.2" text-anchor="end" fill="#262626">GCRT<tspan dx="-0.11em">call</tspan></text>
<path d="M50.00,572.20 L50.80,573.70" fill="none" stroke="#333" stroke-width="1.5" stroke-linecap="round"/>
<path d="M50.80,573.70 L54.70,568.90" fill="none" stroke="#333" stroke-width="0.85" stroke-linecap="round"/>
<path d="M62.62,572.20 L63.42,573.70" fill="none" stroke="#333" stroke-width="1.5" stroke-linecap="round"/>
<path d="M63.42,573.70 L67.32,568.90" fill="none" stroke="#333" stroke-width="0.85" stroke-linecap="round"/>
<path d="M75.24,572.20 L76.04,573.70" fill="none" stroke="#333" stroke-width="1.5" stroke-linecap="round"/>
<path d="M76.04,573.70 L79.94,568.90" fill="none" stroke="#333" stroke-width="0.85" stroke-linecap="round"/>
<path d="M87.76,568.80 L93.06,575.60 M93.06,568.80 L87.76,575.60" fill="none" stroke="#333" stroke-width="1.0"/>
<path d="M100.48,572.20 L101.28,573.70" fill="none" stroke="#333" stroke-width="1.5" stroke-linecap="round"/>
<path d="M101.28,573.70 L105.18,568.90" fill="none" stroke="#333" stroke-width="0.85" stroke-linecap="round"/>
<path d="M113.10,572.20 L113.90,573.70" fill="none" stroke="#333" stroke-width="1.5" stroke-linecap="round"/>
<path d="M113.90,573.70 L117.80,568.90" fill="none" stroke="#333" stroke-width="0.85" stroke-linecap="round"/>
<path d="M125.72,572.20 L126.52,573.70" fill="none" stroke="#333" stroke-width="1.5" stroke-linecap="round"/>
<path d="M126.52,573.70 L130.42,568.90" fill="none" stroke="#333" stroke-width="0.85" stroke-linecap="round"/>
<path d="M138.34,572.20 L139.14,573.70" fill="none" stroke="#333" stroke-width="1.5" stroke-linecap="round"/>
<path d="M139.14,573.70 L143.04,568.90" fill="none" stroke="#333" stroke-width="0.85" stroke-linecap="round"/>
<path d="M150.86,568.80 L156.16,575.60 M156.16,568.80 L150.86,575.60" fill="none" stroke="#333" stroke-width="1.0"/>
<path d="M163.58,572.20 L164.38,573.70" fill="none" stroke="#333" stroke-width="1.5" stroke-linecap="round"/>
<path d="M164.38,573.70 L168.28,568.90" fill="none" stroke="#333" stroke-width="0.85" stroke-linecap="round"/>
<path d="M176.20,572.20 L177.00,573.70" fill="none" stroke="#333" stroke-width="1.5" stroke-linecap="round"/>
<path d="M177.00,573.70 L180.90,568.90" fill="none" stroke="#333" stroke-width="0.85" stroke-linecap="round"/>
<path d="M188.82,572.20 L189.62,573.70" fill="none" stroke="#333" stroke-width="1.5" stroke-linecap="round"/>
<path d="M189.62,573.70 L193.52,568.90" fill="none" stroke="#333" stroke-width="0.85" stroke-linecap="round"/>
<line x1="39.50" y1="589.90" x2="46.10" y2="589.90" stroke="#444444" stroke-width="1"/>
<text x="34.30" y="592.90" font-size="8.2" text-anchor="end" fill="#262626">Dorado</text>
<path d="M50.00,589.00 L50.80,590.50" fill="none" stroke="#333" stroke-width="1.5" stroke-linecap="round"/>
<path d="M50.80,590.50 L54.70,585.70" fill="none" stroke="#333" stroke-width="0.85" stroke-linecap="round"/>
<path d="M62.62,589.00 L63.42,590.50" fill="none" stroke="#333" stroke-width="1.5" stroke-linecap="round"/>
<path d="M63.42,590.50 L67.32,585.70" fill="none" stroke="#333" stroke-width="0.85" stroke-linecap="round"/>
<path d="M75.24,589.00 L76.04,590.50" fill="none" stroke="#333" stroke-width="1.5" stroke-linecap="round"/>
<path d="M76.04,590.50 L79.94,585.70" fill="none" stroke="#333" stroke-width="0.85" stroke-linecap="round"/>
<path d="M87.86,589.00 L88.66,590.50" fill="none" stroke="#333" stroke-width="1.5" stroke-linecap="round"/>
<path d="M88.66,590.50 L92.56,585.70" fill="none" stroke="#333" stroke-width="0.85" stroke-linecap="round"/>
<path d="M100.48,589.00 L101.28,590.50" fill="none" stroke="#333" stroke-width="1.5" stroke-linecap="round"/>
<path d="M101.28,590.50 L105.18,585.70" fill="none" stroke="#333" stroke-width="0.85" stroke-linecap="round"/>
<path d="M113.10,589.00 L113.90,590.50" fill="none" stroke="#333" stroke-width="1.5" stroke-linecap="round"/>
<path d="M113.90,590.50 L117.80,585.70" fill="none" stroke="#333" stroke-width="0.85" stroke-linecap="round"/>
<path d="M125.72,589.00 L126.52,590.50" fill="none" stroke="#333" stroke-width="1.5" stroke-linecap="round"/>
<path d="M126.52,590.50 L130.42,585.70" fill="none" stroke="#333" stroke-width="0.85" stroke-linecap="round"/>
<path d="M138.34,589.00 L139.14,590.50" fill="none" stroke="#333" stroke-width="1.5" stroke-linecap="round"/>
<path d="M139.14,590.50 L143.04,585.70" fill="none" stroke="#333" stroke-width="0.85" stroke-linecap="round"/>
<path d="M150.86,585.60 L156.16,592.40 M156.16,585.60 L150.86,592.40" fill="none" stroke="#333" stroke-width="1.0"/>
<path d="M163.58,589.00 L164.38,590.50" fill="none" stroke="#333" stroke-width="1.5" stroke-linecap="round"/>
<path d="M164.38,590.50 L168.28,585.70" fill="none" stroke="#333" stroke-width="0.85" stroke-linecap="round"/>
<path d="M176.20,589.00 L177.00,590.50" fill="none" stroke="#333" stroke-width="1.5" stroke-linecap="round"/>
<path d="M177.00,590.50 L180.90,585.70" fill="none" stroke="#333" stroke-width="0.85" stroke-linecap="round"/>
<path d="M188.82,589.00 L189.62,590.50" fill="none" stroke="#333" stroke-width="1.5" stroke-linecap="round"/>
<path d="M189.62,590.50 L193.52,585.70" fill="none" stroke="#333" stroke-width="0.85" stroke-linecap="round"/>
<line x1="39.50" y1="606.80" x2="46.10" y2="606.80" stroke="#444444" stroke-width="1"/>
<text x="34.30" y="609.80" font-size="8.2" text-anchor="end" fill="#262626">Coral</text>
<path d="M50.00,605.90 L50.80,607.40" fill="none" stroke="#333" stroke-width="1.5" stroke-linecap="round"/>
<path d="M50.80,607.40 L54.70,602.60" fill="none" stroke="#333" stroke-width="0.85" stroke-linecap="round"/>
<path d="M62.62,605.90 L63.42,607.40" fill="none" stroke="#333" stroke-width="1.5" stroke-linecap="round"/>
<path d="M63.42,607.40 L67.32,602.60" fill="none" stroke="#333" stroke-width="0.85" stroke-linecap="round"/>
<path d="M75.24,605.90 L76.04,607.40" fill="none" stroke="#333" stroke-width="1.5" stroke-linecap="round"/>
<path d="M76.04,607.40 L79.94,602.60" fill="none" stroke="#333" stroke-width="0.85" stroke-linecap="round"/>
<path d="M87.86,605.90 L88.66,607.40" fill="none" stroke="#333" stroke-width="1.5" stroke-linecap="round"/>
<path d="M88.66,607.40 L92.56,602.60" fill="none" stroke="#333" stroke-width="0.85" stroke-linecap="round"/>
<path d="M100.48,605.90 L101.28,607.40" fill="none" stroke="#333" stroke-width="1.5" stroke-linecap="round"/>
<path d="M101.28,607.40 L105.18,602.60" fill="none" stroke="#333" stroke-width="0.85" stroke-linecap="round"/>
<path d="M113.10,605.90 L113.90,607.40" fill="none" stroke="#333" stroke-width="1.5" stroke-linecap="round"/>
<path d="M113.90,607.40 L117.80,602.60" fill="none" stroke="#333" stroke-width="0.85" stroke-linecap="round"/>
<path d="M125.72,605.90 L126.52,607.40" fill="none" stroke="#333" stroke-width="1.5" stroke-linecap="round"/>
<path d="M126.52,607.40 L130.42,602.60" fill="none" stroke="#333" stroke-width="0.85" stroke-linecap="round"/>
<path d="M138.34,605.90 L139.14,607.40" fill="none" stroke="#333" stroke-width="1.5" stroke-linecap="round"/>
<path d="M139.14,607.40 L143.04,602.60" fill="none" stroke="#333" stroke-width="0.85" stroke-linecap="round"/>
<path d="M150.96,605.90 L151.76,607.40" fill="none" stroke="#333" stroke-width="1.5" stroke-linecap="round"/>
<path d="M151.76,607.40 L155.66,602.60" fill="none" stroke="#333" stroke-width="0.85" stroke-linecap="round"/>
<path d="M163.58,605.90 L164.38,607.40" fill="none" stroke="#333" stroke-width="1.5" stroke-linecap="round"/>
<path d="M164.38,607.40 L168.28,602.60" fill="none" stroke="#333" stroke-width="0.85" stroke-linecap="round"/>
<path d="M176.20,605.90 L177.00,607.40" fill="none" stroke="#333" stroke-width="1.5" stroke-linecap="round"/>
<path d="M177.00,607.40 L180.90,602.60" fill="none" stroke="#333" stroke-width="0.85" stroke-linecap="round"/>
<path d="M188.82,605.90 L189.62,607.40" fill="none" stroke="#333" stroke-width="1.5" stroke-linecap="round"/>
<path d="M189.62,607.40 L193.52,602.60" fill="none" stroke="#333" stroke-width="0.85" stroke-linecap="round"/>
<line x1="52.40" y1="615.10" x2="52.40" y2="621.50" stroke="#444444" stroke-width="1"/>
<text x="55.25" y="627.60" font-size="8.2" text-anchor="end" fill="#262626" transform="rotate(-90 55.25 627.60)">AC099850.1:VMP1</text>
<line x1="65.02" y1="615.10" x2="65.02" y2="621.50" stroke="#444444" stroke-width="1"/>
<text x="67.87" y="627.60" font-size="8.2" text-anchor="end" fill="#262626" transform="rotate(-90 67.87 627.60)">ARFGEF2:SULF2</text>
<line x1="77.64" y1="615.10" x2="77.64" y2="621.50" stroke="#444444" stroke-width="1"/>
<text x="80.49" y="627.60" font-size="8.2" text-anchor="end" fill="#262626" transform="rotate(-90 80.49 627.60)">BCAS4:BCAS3</text>
<line x1="90.26" y1="615.10" x2="90.26" y2="621.50" stroke="#444444" stroke-width="1"/>
<text x="93.11" y="627.60" font-size="8.2" text-anchor="end" fill="#262626" transform="rotate(-90 93.11 627.60)">BCAS4:ZMYND8</text>
<line x1="102.88" y1="615.10" x2="102.88" y2="621.50" stroke="#444444" stroke-width="1"/>
<text x="105.73" y="627.60" font-size="8.2" text-anchor="end" fill="#262626" transform="rotate(-90 105.73 627.60)">GIGYF2:EIF4E2</text>
<line x1="115.50" y1="615.10" x2="115.50" y2="621.50" stroke="#444444" stroke-width="1"/>
<text x="118.35" y="627.60" font-size="8.2" text-anchor="end" fill="#262626" transform="rotate(-90 118.35 627.60)">MYO6:SENP6</text>
<line x1="128.12" y1="615.10" x2="128.12" y2="621.50" stroke="#444444" stroke-width="1"/>
<text x="130.97" y="627.60" font-size="8.2" text-anchor="end" fill="#262626" transform="rotate(-90 130.97 627.60)">RPS6KB1:VMP1</text>
<line x1="140.74" y1="615.10" x2="140.74" y2="621.50" stroke="#444444" stroke-width="1"/>
<text x="143.59" y="627.60" font-size="8.2" text-anchor="end" fill="#262626" transform="rotate(-90 143.59 627.60)">RSBN1:AP4B1-AS1</text>
<line x1="153.36" y1="615.10" x2="153.36" y2="621.50" stroke="#444444" stroke-width="1"/>
<text x="156.21" y="627.60" font-size="8.2" text-anchor="end" fill="#262626" transform="rotate(-90 156.21 627.60)">SLC25A24:NBPF6</text>
<line x1="165.98" y1="615.10" x2="165.98" y2="621.50" stroke="#444444" stroke-width="1"/>
<text x="168.83" y="627.60" font-size="8.2" text-anchor="end" fill="#262626" transform="rotate(-90 168.83 627.60)">SYTL2:PICALM</text>
<line x1="178.60" y1="615.10" x2="178.60" y2="621.50" stroke="#444444" stroke-width="1"/>
<text x="181.45" y="627.60" font-size="8.2" text-anchor="end" fill="#262626" transform="rotate(-90 181.45 627.60)">TTC6:RP11-356O9.1</text>
<line x1="191.22" y1="615.10" x2="191.22" y2="621.50" stroke="#444444" stroke-width="1"/>
<text x="194.07" y="627.60" font-size="8.2" text-anchor="end" fill="#262626" transform="rotate(-90 194.07 627.60)">TXLNG:SYAP1</text>
<text x="110.40" y="715.50" font-size="9.5" text-anchor="middle" fill="#262626">Fusion genes</text>
<text x="298.40" y="354.50" font-size="10.5" text-anchor="start" fill="#000" font-weight="bold">d</text>
<line x1="397.70" y1="424.40" x2="609.00" y2="424.40" stroke="#d2d2d2" stroke-width="1"/>
<line x1="397.70" y1="396.07" x2="609.00" y2="396.07" stroke="#d2d2d2" stroke-width="1"/>
<line x1="397.70" y1="367.75" x2="609.00" y2="367.75" stroke="#d2d2d2" stroke-width="1"/>
<rect x="401.85" y="356.99" width="10.70" height="67.41" fill="#000080"/>
<text x="407.20" y="354.49" font-size="9.5" text-anchor="middle" fill="#262626">119</text>
<rect x="421.03" y="390.98" width="10.70" height="33.42" fill="#000080"/>
<text x="426.38" y="388.48" font-size="9.5" text-anchor="middle" fill="#262626">59</text>
<rect x="440.21" y="412.50" width="10.70" height="11.90" fill="#000080"/>
<text x="445.56" y="410.00" font-size="9.5" text-anchor="middle" fill="#262626">21</text>
<rect x="459.39" y="412.50" width="10.70" height="11.90" fill="#000080"/>
<text x="464.74" y="410.00" font-size="9.5" text-anchor="middle" fill="#262626">21</text>
<rect x="478.57" y="415.34" width="10.70" height="9.06" fill="#000080"/>
<text x="483.92" y="412.84" font-size="9.5" text-anchor="middle" fill="#262626">16</text>
<rect x="497.75" y="415.90" width="10.70" height="8.50" fill="#000080"/>
<text x="503.10" y="413.40" font-size="9.5" text-anchor="middle" fill="#262626">15</text>
<rect x="516.93" y="417.04" width="10.70" height="7.36" fill="#000080"/>
<text x="522.28" y="414.54" font-size="9.5" text-anchor="middle" fill="#262626">13</text>
<rect x="536.11" y="417.60" width="10.70" height="6.80" fill="#000080"/>
<text x="541.46" y="415.10" font-size="9.5" text-anchor="middle" fill="#262626">12</text>
<rect x="555.29" y="418.73" width="10.70" height="5.67" fill="#000080"/>
<text x="560.64" y="416.23" font-size="9.5" text-anchor="middle" fill="#262626">10</text>
<rect x="574.47" y="419.30" width="10.70" height="5.10" fill="#000080"/>
<text x="579.82" y="416.80" font-size="9.5" text-anchor="middle" fill="#262626">9</text>
<rect x="593.65" y="419.30" width="10.70" height="5.10" fill="#000080"/>
<text x="599.00" y="416.80" font-size="9.5" text-anchor="middle" fill="#262626">9</text>
<line x1="397.70" y1="353.20" x2="397.70" y2="424.40" stroke="#333333" stroke-width="1"/>
<line x1="391.30" y1="424.40" x2="397.70" y2="424.40" stroke="#333333" stroke-width="1"/>
<text x="385.90" y="427.40" font-size="8.2" text-anchor="end" fill="#262626">0</text>
<line x1="391.30" y1="396.07" x2="397.70" y2="396.07" stroke="#333333" stroke-width="1"/>
<text x="385.90" y="399.07" font-size="8.2" text-anchor="end" fill="#262626">50</text>
<line x1="391.30" y1="367.75" x2="397.70" y2="367.75" stroke="#333333" stroke-width="1"/>
<text x="385.90" y="370.75" font-size="8.2" text-anchor="end" fill="#262626">100</text>
<text x="364.80" y="389.40" font-size="9.55" text-anchor="middle" fill="#262626" transform="rotate(-90 364.80 389.40)">Intersection size</text>
<rect x="300.00" y="438.80" width="308.80" height="14.00" fill="#f0f0f7"/>
<rect x="300.00" y="473.40" width="308.80" height="14.00" fill="#f0f0f7"/>
<rect x="300.00" y="508.00" width="308.80" height="14.00" fill="#f0f0f7"/>
<line x1="302.80" y1="434.40" x2="302.80" y2="526.00" stroke="#d2d2d2" stroke-width="1"/>
<line x1="335.80" y1="434.40" x2="335.80" y2="526.00" stroke="#d2d2d2" stroke-width="1"/>
<rect x="320.62" y="440.90" width="15.78" height="9.80" fill="#000080"/>
<text x="320.02" y="448.30" font-size="9.0" text-anchor="end" fill="#262626">116</text>
<text x="392.20" y="448.80" font-size="8.3" text-anchor="end" fill="#262626">Dorado</text>
<rect x="316.41" y="458.20" width="19.99" height="9.80" fill="#000080"/>
<text x="315.81" y="465.60" font-size="9.0" text-anchor="end" fill="#262626">147</text>
<text x="392.20" y="466.10" font-size="8.3" text-anchor="end" fill="#262626">RODAN</text>
<rect x="315.73" y="475.50" width="20.67" height="9.80" fill="#000080"/>
<text x="315.13" y="482.90" font-size="9.0" text-anchor="end" fill="#262626">152</text>
<text x="392.20" y="483.40" font-size="8.3" text-anchor="end" fill="#262626">GCRT<tspan dx="-0.11em">call</tspan></text>
<rect x="313.96" y="492.80" width="22.44" height="9.80" fill="#000080"/>
<text x="313.36" y="500.20" font-size="9.0" text-anchor="end" fill="#262626">165</text>
<text x="392.20" y="500.70" font-size="8.3" text-anchor="end" fill="#262626">Guppy</text>
<rect x="299.82" y="510.10" width="36.58" height="9.80" fill="#000080"/>
<text x="299.22" y="517.50" font-size="9.0" text-anchor="end" fill="#262626">269</text>
<text x="392.20" y="518.00" font-size="8.3" text-anchor="end" fill="#262626">Coral</text>
<line x1="302.50" y1="525.70" x2="336.40" y2="525.70" stroke="#333333" stroke-width="1"/>
<line x1="302.80" y1="525.70" x2="302.80" y2="532.40" stroke="#333333" stroke-width="1"/>
<line x1="335.80" y1="525.70" x2="335.80" y2="532.40" stroke="#333333" stroke-width="1"/>
<text x="302.80" y="543.30" font-size="8.2" text-anchor="middle" fill="#262626">250</text>
<text x="335.80" y="543.30" font-size="8.2" text-anchor="middle" fill="#262626">0</text>
<circle cx="407.20" cy="445.80" r="4.65" fill="#c9c9e6"/>
<circle cx="407.20" cy="463.10" r="4.65" fill="#d7d7ee"/>
<circle cx="407.20" cy="480.40" r="4.65" fill="#c9c9e6"/>
<circle cx="407.20" cy="497.70" r="4.65" fill="#d7d7ee"/>
<circle cx="407.20" cy="515.00" r="4.65" fill="#c9c9e6"/>
<circle cx="407.20" cy="515.00" r="4.95" fill="#000080"/>
<circle cx="426.38" cy="445.80" r="4.65" fill="#c9c9e6"/>
<circle cx="426.38" cy="463.10" r="4.65" fill="#d7d7ee"/>
<circle cx="426.38" cy="480.40" r="4.65" fill="#c9c9e6"/>
<circle cx="426.38" cy="497.70" r="4.65" fill="#d7d7ee"/>
<circle cx="426.38" cy="515.00" r="4.65" fill="#c9c9e6"/>
<line x1="426.38" y1="445.80" x2="426.38" y2="515.00" stroke="#000080" stroke-width="2.4"/>
<circle cx="426.38" cy="445.80" r="4.95" fill="#000080"/>
<circle cx="426.38" cy="463.10" r="4.95" fill="#000080"/>
<circle cx="426.38" cy="480.40" r="4.95" fill="#000080"/>
<circle cx="426.38" cy="497.70" r="4.95" fill="#000080"/>
<circle cx="426.38" cy="515.00" r="4.95" fill="#000080"/>
<circle cx="445.56" cy="445.80" r="4.65" fill="#c9c9e6"/>
<circle cx="445.56" cy="463.10" r="4.65" fill="#d7d7ee"/>
<circle cx="445.56" cy="480.40" r="4.65" fill="#c9c9e6"/>
<circle cx="445.56" cy="497.70" r="4.65" fill="#d7d7ee"/>
<circle cx="445.56" cy="515.00" r="4.65" fill="#c9c9e6"/>
<line x1="445.56" y1="463.10" x2="445.56" y2="515.00" stroke="#000080" stroke-width="2.4"/>
<circle cx="445.56" cy="463.10" r="4.95" fill="#000080"/>
<circle cx="445.56" cy="480.40" r="4.95" fill="#000080"/>
<circle cx="445.56" cy="497.70" r="4.95" fill="#000080"/>
<circle cx="445.56" cy="515.00" r="4.95" fill="#000080"/>
<circle cx="464.74" cy="445.80" r="4.65" fill="#c9c9e6"/>
<circle cx="464.74" cy="463.10" r="4.65" fill="#d7d7ee"/>
<circle cx="464.74" cy="480.40" r="4.65" fill="#c9c9e6"/>
<circle cx="464.74" cy="497.70" r="4.65" fill="#d7d7ee"/>
<circle cx="464.74" cy="515.00" r="4.65" fill="#c9c9e6"/>
<circle cx="464.74" cy="497.70" r="4.95" fill="#000080"/>
<circle cx="483.92" cy="445.80" r="4.65" fill="#c9c9e6"/>
<circle cx="483.92" cy="463.10" r="4.65" fill="#d7d7ee"/>
<circle cx="483.92" cy="480.40" r="4.65" fill="#c9c9e6"/>
<circle cx="483.92" cy="497.70" r="4.65" fill="#d7d7ee"/>
<circle cx="483.92" cy="515.00" r="4.65" fill="#c9c9e6"/>
<circle cx="483.92" cy="445.80" r="4.95" fill="#000080"/>
<circle cx="503.10" cy="445.80" r="4.65" fill="#c9c9e6"/>
<circle cx="503.10" cy="463.10" r="4.65" fill="#d7d7ee"/>
<circle cx="503.10" cy="480.40" r="4.65" fill="#c9c9e6"/>
<circle cx="503.10" cy="497.70" r="4.65" fill="#d7d7ee"/>
<circle cx="503.10" cy="515.00" r="4.65" fill="#c9c9e6"/>
<line x1="503.10" y1="480.40" x2="503.10" y2="515.00" stroke="#000080" stroke-width="2.4"/>
<circle cx="503.10" cy="480.40" r="4.95" fill="#000080"/>
<circle cx="503.10" cy="497.70" r="4.95" fill="#000080"/>
<circle cx="503.10" cy="515.00" r="4.95" fill="#000080"/>
<circle cx="522.28" cy="445.80" r="4.65" fill="#c9c9e6"/>
<circle cx="522.28" cy="463.10" r="4.65" fill="#d7d7ee"/>
<circle cx="522.28" cy="480.40" r="4.65" fill="#c9c9e6"/>
<circle cx="522.28" cy="497.70" r="4.65" fill="#d7d7ee"/>
<circle cx="522.28" cy="515.00" r="4.65" fill="#c9c9e6"/>
<line x1="522.28" y1="445.80" x2="522.28" y2="497.70" stroke="#000080" stroke-width="2.4"/>
<circle cx="522.28" cy="445.80" r="4.95" fill="#000080"/>
<circle cx="522.28" cy="463.10" r="4.95" fill="#000080"/>
<circle cx="522.28" cy="480.40" r="4.95" fill="#000080"/>
<circle cx="522.28" cy="497.70" r="4.95" fill="#000080"/>
<circle cx="541.46" cy="445.80" r="4.65" fill="#c9c9e6"/>
<circle cx="541.46" cy="463.10" r="4.65" fill="#d7d7ee"/>
<circle cx="541.46" cy="480.40" r="4.65" fill="#c9c9e6"/>
<circle cx="541.46" cy="497.70" r="4.65" fill="#d7d7ee"/>
<circle cx="541.46" cy="515.00" r="4.65" fill="#c9c9e6"/>
<line x1="541.46" y1="463.10" x2="541.46" y2="515.00" stroke="#000080" stroke-width="2.4"/>
<circle cx="541.46" cy="463.10" r="4.95" fill="#000080"/>
<circle cx="541.46" cy="480.40" r="4.95" fill="#000080"/>
<circle cx="541.46" cy="515.00" r="4.95" fill="#000080"/>
<circle cx="560.64" cy="445.80" r="4.65" fill="#c9c9e6"/>
<circle cx="560.64" cy="463.10" r="4.65" fill="#d7d7ee"/>
<circle cx="560.64" cy="480.40" r="4.65" fill="#c9c9e6"/>
<circle cx="560.64" cy="497.70" r="4.65" fill="#d7d7ee"/>
<circle cx="560.64" cy="515.00" r="4.65" fill="#c9c9e6"/>
<circle cx="560.64" cy="480.40" r="4.95" fill="#000080"/>
<circle cx="579.82" cy="445.80" r="4.65" fill="#c9c9e6"/>
<circle cx="579.82" cy="463.10" r="4.65" fill="#d7d7ee"/>
<circle cx="579.82" cy="480.40" r="4.65" fill="#c9c9e6"/>
<circle cx="579.82" cy="497.70" r="4.65" fill="#d7d7ee"/>
<circle cx="579.82" cy="515.00" r="4.65" fill="#c9c9e6"/>
<line x1="579.82" y1="463.10" x2="579.82" y2="515.00" stroke="#000080" stroke-width="2.4"/>
<circle cx="579.82" cy="463.10" r="4.95" fill="#000080"/>
<circle cx="579.82" cy="515.00" r="4.95" fill="#000080"/>
<circle cx="599.00" cy="445.80" r="4.65" fill="#c9c9e6"/>
<circle cx="599.00" cy="463.10" r="4.65" fill="#d7d7ee"/>
<circle cx="599.00" cy="480.40" r="4.65" fill="#c9c9e6"/>
<circle cx="599.00" cy="497.70" r="4.65" fill="#d7d7ee"/>
<circle cx="599.00" cy="515.00" r="4.65" fill="#c9c9e6"/>
<circle cx="599.00" cy="463.10" r="4.95" fill="#000080"/>
<text x="246.60" y="565.50" font-size="10.5" text-anchor="start" fill="#000" font-weight="bold">e</text>
<rect x="276.30" y="618.90" width="7.40" height="55.30" fill="#8fb0cc"/>
<rect x="284.84" y="609.01" width="7.40" height="65.19" fill="#ecb9a4"/>
<line x1="284.27" y1="674.20" x2="284.27" y2="677.50" stroke="#333333" stroke-width="1"/>
<text x="284.27" y="692.86" dy="0.35em" font-size="8.2" text-anchor="middle" fill="#262626" transform="rotate(-45 284.27 692.86)">Guppy</text>
<rect x="297.64" y="611.00" width="7.40" height="63.20" fill="#8fb0cc"/>
<rect x="306.18" y="604.51" width="7.40" height="69.69" fill="#ecb9a4"/>
<line x1="305.61" y1="674.20" x2="305.61" y2="677.50" stroke="#333333" stroke-width="1"/>
<text x="305.61" y="694.79" dy="0.35em" font-size="8.2" text-anchor="middle" fill="#262626" transform="rotate(-45 305.61 694.79)">RODAN</text>
<rect x="318.98" y="614.91" width="7.40" height="59.29" fill="#8fb0cc"/>
<rect x="327.52" y="608.01" width="7.40" height="66.19" fill="#ecb9a4"/>
<line x1="326.95" y1="674.20" x2="326.95" y2="677.50" stroke="#333333" stroke-width="1"/>
<text x="326.95" y="696.57" dy="0.35em" font-size="8.2" text-anchor="middle" fill="#262626" transform="rotate(-45 326.95 696.57)">GCRT<tspan dx="-0.11em">call</tspan></text>
<rect x="340.32" y="641.69" width="7.40" height="32.51" fill="#8fb0cc"/>
<rect x="348.86" y="635.79" width="7.40" height="38.41" fill="#ecb9a4"/>
<line x1="348.29" y1="674.20" x2="348.29" y2="677.50" stroke="#333333" stroke-width="1"/>
<text x="348.29" y="693.83" dy="0.35em" font-size="8.2" text-anchor="middle" fill="#262626" transform="rotate(-45 348.29 693.83)">Dorado</text>
<rect x="361.66" y="666.30" width="7.40" height="7.90" fill="#8fb0cc"/>
<rect x="370.20" y="583.40" width="7.40" height="90.80" fill="#ecb9a4"/>
<line x1="369.63" y1="674.20" x2="369.63" y2="677.50" stroke="#333333" stroke-width="1"/>
<text x="369.63" y="691.25" dy="0.35em" font-size="8.2" text-anchor="middle" fill="#262626" transform="rotate(-45 369.63 691.25)">Coral</text>
<rect x="273.60" y="578.50" width="106.70" height="95.70" fill="none" stroke="#333333" stroke-width="1"/>
<line x1="270.60" y1="674.20" x2="273.60" y2="674.20" stroke="#333333" stroke-width="1"/>
<text x="266.40" y="677.20" font-size="8.4" text-anchor="end" fill="#262626">0</text>
<line x1="270.60" y1="651.50" x2="273.60" y2="651.50" stroke="#333333" stroke-width="1"/>
<text x="266.40" y="654.50" font-size="8.4" text-anchor="end" fill="#262626">1000</text>
<line x1="270.60" y1="628.80" x2="273.60" y2="628.80" stroke="#333333" stroke-width="1"/>
<text x="266.40" y="631.80" font-size="8.4" text-anchor="end" fill="#262626">2000</text>
<line x1="270.60" y1="606.10" x2="273.60" y2="606.10" stroke="#333333" stroke-width="1"/>
<text x="266.40" y="609.10" font-size="8.4" text-anchor="end" fill="#262626">3000</text>
<line x1="270.60" y1="583.40" x2="273.60" y2="583.40" stroke="#333333" stroke-width="1"/>
<text x="266.40" y="586.40" font-size="8.4" text-anchor="end" fill="#262626">4000</text>
<text x="276.90" y="570.3" font-size="9.6" fill="#262626"><tspan font-style="italic">HLA-C</tspan> (ASE: Maternal)</text>
<rect x="416.17" y="636.00" width="7.40" height="38.20" fill="#8fb0cc"/>
<rect x="424.67" y="642.19" width="7.40" height="32.01" fill="#ecb9a4"/>
<line x1="424.12" y1="674.20" x2="424.12" y2="677.50" stroke="#333333" stroke-width="1"/>
<text x="424.12" y="692.86" dy="0.35em" font-size="8.2" text-anchor="middle" fill="#262626" transform="rotate(-45 424.12 692.86)">Guppy</text>
<rect x="437.41" y="636.70" width="7.40" height="37.50" fill="#8fb0cc"/>
<rect x="445.91" y="642.69" width="7.40" height="31.51" fill="#ecb9a4"/>
<line x1="445.36" y1="674.20" x2="445.36" y2="677.50" stroke="#333333" stroke-width="1"/>
<text x="445.36" y="694.79" dy="0.35em" font-size="8.2" text-anchor="middle" fill="#262626" transform="rotate(-45 445.36 694.79)">RODAN</text>
<rect x="458.65" y="631.00" width="7.40" height="43.20" fill="#8fb0cc"/>
<rect x="467.15" y="636.50" width="7.40" height="37.70" fill="#ecb9a4"/>
<line x1="466.60" y1="674.20" x2="466.60" y2="677.50" stroke="#333333" stroke-width="1"/>
<text x="466.60" y="696.57" dy="0.35em" font-size="8.2" text-anchor="middle" fill="#262626" transform="rotate(-45 466.60 696.57)">GCRT<tspan dx="-0.11em">call</tspan></text>
<rect x="479.89" y="648.71" width="7.40" height="25.49" fill="#8fb0cc"/>
<rect x="488.39" y="652.09" width="7.40" height="22.11" fill="#ecb9a4"/>
<line x1="487.84" y1="674.20" x2="487.84" y2="677.50" stroke="#333333" stroke-width="1"/>
<text x="487.84" y="693.83" dy="0.35em" font-size="8.2" text-anchor="middle" fill="#262626" transform="rotate(-45 487.84 693.83)">Dorado</text>
<rect x="501.13" y="583.70" width="7.40" height="90.50" fill="#8fb0cc"/>
<line x1="509.08" y1="674.20" x2="509.08" y2="677.50" stroke="#333333" stroke-width="1"/>
<text x="509.08" y="691.25" dy="0.35em" font-size="8.2" text-anchor="middle" fill="#262626" transform="rotate(-45 509.08 691.25)">Coral</text>
<rect x="413.50" y="578.50" width="106.20" height="95.70" fill="none" stroke="#333333" stroke-width="1"/>
<line x1="410.50" y1="674.20" x2="413.50" y2="674.20" stroke="#333333" stroke-width="1"/>
<text x="406.30" y="677.20" font-size="8.4" text-anchor="end" fill="#262626">0</text>
<line x1="410.50" y1="651.50" x2="413.50" y2="651.50" stroke="#333333" stroke-width="1"/>
<text x="406.30" y="654.50" font-size="8.4" text-anchor="end" fill="#262626">1000</text>
<line x1="410.50" y1="628.80" x2="413.50" y2="628.80" stroke="#333333" stroke-width="1"/>
<text x="406.30" y="631.80" font-size="8.4" text-anchor="end" fill="#262626">2000</text>
<line x1="410.50" y1="606.10" x2="413.50" y2="606.10" stroke="#333333" stroke-width="1"/>
<text x="406.30" y="609.10" font-size="8.4" text-anchor="end" fill="#262626">3000</text>
<line x1="410.50" y1="583.40" x2="413.50" y2="583.40" stroke="#333333" stroke-width="1"/>
<text x="406.30" y="586.40" font-size="8.4" text-anchor="end" fill="#262626">4000</text>
<text x="416.70" y="570.3" font-size="9.6" fill="#262626"><tspan font-style="italic">GSTP1</tspan> (ASE: Paternal)</text>
<rect x="549.96" y="653.09" width="7.40" height="21.11" fill="#8fb0cc"/>
<rect x="558.44" y="597.42" width="7.40" height="76.78" fill="#ecb9a4"/>
<line x1="557.90" y1="674.20" x2="557.90" y2="677.50" stroke="#333333" stroke-width="1"/>
<text x="557.90" y="692.86" dy="0.35em" font-size="8.2" text-anchor="middle" fill="#262626" transform="rotate(-45 557.90 692.86)">Guppy</text>
<rect x="571.16" y="655.11" width="7.40" height="19.09" fill="#8fb0cc"/>
<rect x="579.64" y="598.47" width="7.40" height="75.73" fill="#ecb9a4"/>
<line x1="579.10" y1="674.20" x2="579.10" y2="677.50" stroke="#333333" stroke-width="1"/>
<text x="579.10" y="694.79" dy="0.35em" font-size="8.2" text-anchor="middle" fill="#262626" transform="rotate(-45 579.10 694.79)">RODAN</text>
<rect x="592.36" y="653.09" width="7.40" height="21.11" fill="#8fb0cc"/>
<rect x="600.84" y="591.14" width="7.40" height="83.06" fill="#ecb9a4"/>
<line x1="600.30" y1="674.20" x2="600.30" y2="677.50" stroke="#333333" stroke-width="1"/>
<text x="600.30" y="696.57" dy="0.35em" font-size="8.2" text-anchor="middle" fill="#262626" transform="rotate(-45 600.30 696.57)">GCRT<tspan dx="-0.11em">call</tspan></text>
<rect x="613.56" y="663.80" width="7.40" height="10.40" fill="#8fb0cc"/>
<rect x="622.04" y="617.66" width="7.40" height="56.54" fill="#ecb9a4"/>
<line x1="621.50" y1="674.20" x2="621.50" y2="677.50" stroke="#333333" stroke-width="1"/>
<text x="621.50" y="693.83" dy="0.35em" font-size="8.2" text-anchor="middle" fill="#262626" transform="rotate(-45 621.50 693.83)">Dorado</text>
<rect x="634.76" y="660.80" width="7.40" height="13.40" fill="#8fb0cc"/>
<rect x="643.24" y="583.46" width="7.40" height="90.74" fill="#ecb9a4"/>
<line x1="642.70" y1="674.20" x2="642.70" y2="677.50" stroke="#333333" stroke-width="1"/>
<text x="642.70" y="691.25" dy="0.35em" font-size="8.2" text-anchor="middle" fill="#262626" transform="rotate(-45 642.70 691.25)">Coral</text>
<rect x="547.30" y="578.50" width="106.00" height="95.70" fill="none" stroke="#333333" stroke-width="1"/>
<line x1="544.30" y1="674.20" x2="547.30" y2="674.20" stroke="#333333" stroke-width="1"/>
<text x="540.10" y="677.20" font-size="8.4" text-anchor="end" fill="#262626">0</text>
<line x1="544.30" y1="639.30" x2="547.30" y2="639.30" stroke="#333333" stroke-width="1"/>
<text x="540.10" y="642.30" font-size="8.4" text-anchor="end" fill="#262626">100</text>
<line x1="544.30" y1="604.40" x2="547.30" y2="604.40" stroke="#333333" stroke-width="1"/>
<text x="540.10" y="607.40" font-size="8.4" text-anchor="end" fill="#262626">200</text>
<text x="551.80" y="570.3" font-size="9.6" fill="#262626"><tspan font-style="italic">CRYZ</tspan> (ASE: Maternal)</text>
<text x="240.50" y="626.40" font-size="9.5" text-anchor="middle" fill="#262626" transform="rotate(-90 240.50 626.40)">Number of reads</text>
<rect x="656.00" y="563.60" width="15.40" height="4.60" fill="#8fb0cc"/>
<rect x="656.00" y="575.50" width="15.40" height="4.60" fill="#ecb9a4"/>
<text x="678.80" y="569.00" font-size="8.8" text-anchor="start" fill="#262626">P</text>
<text x="678.80" y="581.00" font-size="8.8" text-anchor="start" fill="#262626">M</text>
</svg></body></html>
